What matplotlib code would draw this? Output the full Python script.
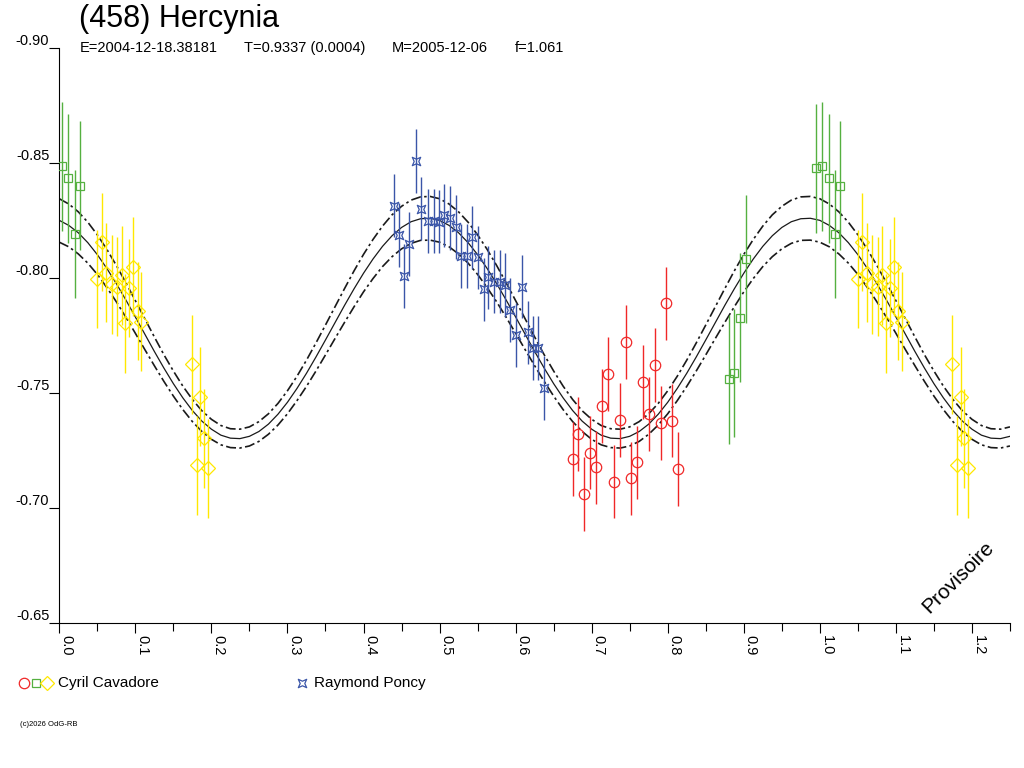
import matplotlib
matplotlib.use("Agg")
import matplotlib.pyplot as plt
import numpy as np
from matplotlib.path import Path
from matplotlib.lines import Line2D

plt.rcParams['font.family'] = ['Liberation Sans', 'DejaVu Sans']

# ---- fitted curve, every 0.0125 in phase (0 .. 0.9875) ----
fit_phase = np.arange(80) * 0.0125
fit_mid = [
    -0.8252, -0.8230, -0.8198, -0.8155, -0.8103, -0.8043, -0.7977, -0.7906, -0.7832, -0.7757,
    -0.7682, -0.7610, -0.7542, -0.7480, -0.7425, -0.7379, -0.7344, -0.7318, -0.7305, -0.7303,
    -0.7313, -0.7334, -0.7366, -0.7409, -0.7461, -0.7521, -0.7587, -0.7658, -0.7732, -0.7807,
    -0.7882, -0.7954, -0.8022, -0.8084, -0.8139, -0.8185, -0.8221, -0.8246, -0.8259, -0.8261,
    -0.8252, -0.8230, -0.8198, -0.8155, -0.8103, -0.8043, -0.7977, -0.7906, -0.7832, -0.7757,
    -0.7682, -0.7610, -0.7542, -0.7480, -0.7425, -0.7379, -0.7344, -0.7318, -0.7305, -0.7303,
    -0.7313, -0.7334, -0.7366, -0.7409, -0.7461, -0.7521, -0.7587, -0.7658, -0.7732, -0.7807,
    -0.7882, -0.7954, -0.8022, -0.8084, -0.8139, -0.8185, -0.8221, -0.8246, -0.8259, -0.8261,
]
fit_up = [
    -0.8346, -0.8323, -0.8289, -0.8244, -0.8189, -0.8126, -0.8056, -0.7981, -0.7903, -0.7824,
    -0.7745, -0.7668, -0.7597, -0.7531, -0.7473, -0.7424, -0.7387, -0.7360, -0.7346, -0.7344,
    -0.7354, -0.7377, -0.7411, -0.7456, -0.7511, -0.7574, -0.7644, -0.7719, -0.7797, -0.7876,
    -0.7955, -0.8032, -0.8104, -0.8169, -0.8227, -0.8276, -0.8313, -0.8340, -0.8354, -0.8356,
    -0.8346, -0.8323, -0.8289, -0.8244, -0.8189, -0.8126, -0.8056, -0.7981, -0.7903, -0.7824,
    -0.7745, -0.7668, -0.7597, -0.7531, -0.7473, -0.7424, -0.7387, -0.7360, -0.7346, -0.7344,
    -0.7354, -0.7377, -0.7411, -0.7456, -0.7511, -0.7574, -0.7644, -0.7719, -0.7797, -0.7876,
    -0.7955, -0.8032, -0.8104, -0.8169, -0.8227, -0.8276, -0.8313, -0.8340, -0.8354, -0.8356,
]
fit_lo = [
    -0.8157, -0.8137, -0.8106, -0.8066, -0.8017, -0.7960, -0.7898, -0.7831, -0.7761, -0.7690,
    -0.7620, -0.7552, -0.7488, -0.7429, -0.7377, -0.7334, -0.7300, -0.7276, -0.7264, -0.7262,
    -0.7271, -0.7291, -0.7322, -0.7362, -0.7411, -0.7468, -0.7530, -0.7597, -0.7667, -0.7738,
    -0.7808, -0.7876, -0.7941, -0.7999, -0.8051, -0.8094, -0.8128, -0.8152, -0.8165, -0.8166,
    -0.8157, -0.8137, -0.8106, -0.8066, -0.8017, -0.7960, -0.7898, -0.7831, -0.7761, -0.7690,
    -0.7620, -0.7552, -0.7488, -0.7429, -0.7377, -0.7334, -0.7300, -0.7276, -0.7264, -0.7262,
    -0.7271, -0.7291, -0.7322, -0.7362, -0.7411, -0.7468, -0.7530, -0.7597, -0.7667, -0.7738,
    -0.7808, -0.7876, -0.7941, -0.7999, -0.8051, -0.8094, -0.8128, -0.8152, -0.8165, -0.8166,
]

# ---- observations (phase, reduced magnitude) ----
# Cyril Cavadore, session 1 (red circles)
red_ph = [0.6755, 0.6825, 0.690, 0.6983, 0.7062, 0.7133, 0.7216, 0.729, 0.7366, 0.7448,
          0.7518, 0.7597, 0.768, 0.775, 0.7829, 0.7914, 0.7983, 0.8062, 0.8141]
red_mag = [-0.7214, -0.7324, -0.7062, -0.7242, -0.7178, -0.7446, -0.7585, -0.7116, -0.7383, -0.7722,
           -0.7130, -0.7200, -0.7548, -0.7409, -0.7624, -0.7372, -0.7891, -0.7381, -0.7170]
red_err = 0.016

# Cyril Cavadore, session 2 (green squares)
green_ph = [0.003, 0.012, 0.020, 0.027, 0.880, 0.887, 0.895, 0.903, 0.995]
green_mag = [-0.8487, -0.8435, -0.8193, -0.8402, -0.7561, -0.7588, -0.7829, -0.8084, -0.8478]
green_err = 0.028

# Cyril Cavadore, session 3 (yellow diamonds)
yellow_ph = [0.050, 0.056, 0.062, 0.069, 0.076, 0.082, 0.087, 0.092, 0.097, 0.103,
             0.108, 0.174, 0.181, 0.185, 0.190, 0.195]
yellow_mag = [-0.7997, -0.8158, -0.8025, -0.7975, -0.7963, -0.8013, -0.7804, -0.7958, -0.8050, -0.7858,
              -0.7811, -0.7626, -0.7188, -0.7485, -0.7304, -0.7174]
yellow_err = 0.0215

# Raymond Poncy (blue stars)
blue_ph = [0.4395, 0.4461, 0.4532, 0.4601, 0.4684, 0.4759, 0.4842, 0.4921, 0.4992, 0.5062,
           0.5132, 0.5216, 0.5276, 0.5355, 0.5421, 0.550, 0.5579, 0.5641, 0.5716, 0.5789,
           0.586, 0.593, 0.6005, 0.6084, 0.6158, 0.6229, 0.6295, 0.6369]
blue_mag = [-0.8316, -0.8188, -0.8010, -0.8150, -0.8511, -0.8303, -0.8249, -0.8249, -0.8246, -0.8274,
            -0.8262, -0.8224, -0.8097, -0.8097, -0.8178, -0.8091, -0.7952, -0.8004, -0.7985, -0.7985,
            -0.7971, -0.7862, -0.7753, -0.7964, -0.7765, -0.7698, -0.7698, -0.7523]
blue_err = 0.0138

x_major = [0.0, 0.1, 0.2, 0.3, 0.4, 0.5, 0.6, 0.7, 0.8, 0.9, 1.0, 1.1, 1.2]
x_labels = ["0.0", "0.1", "0.2", "0.3", "0.4", "0.5", "0.6", "0.7", "0.8", "0.9", "1.0", "1.1", "1.2"]
y_ticks = [-0.90, -0.85, -0.80, -0.75, -0.70, -0.65]
y_labels = ["-0.90", "-0.85", "-0.80", "-0.75", "-0.70", "-0.65"]

RED = '#f02828'
GREEN = '#55b040'
YELLOW = '#ffe800'
BLUE = '#3a55a8'

# marker like a square with pinched sides
star_path = Path([(-1, -1), (0, -0.55), (1, -1), (0.55, 0), (1, 1), (0, 0.55), (-1, 1), (-0.55, 0), (-1, -1)],
                 [Path.MOVETO] + [Path.LINETO] * 7 + [Path.CLOSEPOLY])


def wrap(ph, *vals, upto=0.25):
    # phases below 0.25 are shown again after 1.0
    ph = np.asarray(ph)
    sel = ph <= upto + 1e-9
    out = [np.concatenate([ph, ph[sel] + 1])]
    for v in vals:
        v = np.asarray(v)
        out.append(np.concatenate([v, v[sel]]))
    return out


fig = plt.figure(figsize=(10.24, 7.68), dpi=100)
ax = fig.add_axes([0.0579, 0.1884, 0.9284, 0.7487])

# fit + envelope
fx, fm, fu, fl = wrap(fit_phase, fit_mid, fit_up, fit_lo)
ax.plot(fx, fm, color='#1a1a1a', lw=0.9, zorder=2)
ax.plot(fx, fu, color='#1a1a1a', lw=1.2, ls=(0, (6, 2, 1.5, 2)), zorder=2)
ax.plot(fx, fl, color='#1a1a1a', lw=1.2, ls=(0, (6, 2, 1.5, 2)), zorder=2)

series = [
    (red_ph, red_mag, red_err, RED, 'o', 7.5),
    (green_ph, green_mag, green_err, GREEN, 's', 6.3),
    (yellow_ph, yellow_mag, yellow_err, YELLOW, 'D', 6.8),
    (blue_ph, blue_mag, blue_err, BLUE, star_path, 6),
]
for ph, mag, err, col, mk, ms in series:
    x, y = wrap(ph, mag)
    ax.errorbar(x, y, yerr=err, fmt='none', ecolor=col, elinewidth=1.0, capsize=0, zorder=3)
    ax.plot(x, y, ls='none', marker=mk, mfc='none', mec=col, ms=ms, mew=0.9, zorder=4)

ax.set_xlim(0, 1.25)
ax.set_ylim(-0.65, -0.90)

ax.set_xticks(x_major)
ax.set_xticks([0.05, 0.15, 0.25, 0.35, 0.45, 0.55, 0.65, 0.75, 0.85, 0.95, 1.05, 1.15, 1.25], minor=True)
ax.set_xticklabels(x_labels, rotation=-90, ha='left', va='top', fontsize=10.5)
ax.set_yticks(y_ticks)
ax.set_yticklabels(y_labels, va='bottom', fontsize=10.5)

ax.tick_params(axis='x', which='major', length=7.2, width=0.8, pad=1.5, direction='out')
ax.tick_params(axis='x', which='minor', length=6, width=0.8, direction='out')
ax.tick_params(axis='y', length=7.2, width=0.8, pad=0, direction='out')

for s in ['top', 'right']:
    ax.spines[s].set_visible(False)
for s in ['left', 'bottom']:
    ax.spines[s].set_linewidth(0.8)

# header
fig.text(79 / 1024, 1 - 27 / 768, "(458) Hercynia", fontsize=22, va='baseline')
fig.text(79.6 / 1024, 1 - 52 / 768, "E=2004-12-18.38181", fontsize=10.5, va='baseline')
fig.text(244 / 1024, 1 - 52 / 768, "T=0.9337 (0.0004)", fontsize=10.5, va='baseline')
fig.text(391.5 / 1024, 1 - 52 / 768, "M=2005-12-06", fontsize=10.5, va='baseline')
fig.text(514.6 / 1024, 1 - 52 / 768, "f=1.061", fontsize=10.5, va='baseline')

# watermark
fig.text(958 / 1024, 1 - 577 / 768, "Provisoire", fontsize=15, rotation=45,
         ha='center', va='center')

# legend
ly = 1 - 683 / 768
for lx, col, mk, ms in [(24, RED, 'o', 7.5), (36, GREEN, 's', 6.3), (47, YELLOW, 'D', 6.8), (302, BLUE, star_path, 6)]:
    fig.add_artist(Line2D([lx / 1024], [ly], transform=fig.transFigure, ls='none', marker=mk,
                          mfc='none', mec=col, ms=ms, mew=0.9))
fig.text(58.5 / 1024, ly, "Cyril Cavadore", fontsize=11, va='center')
fig.text(314 / 1024, ly, "Raymond Poncy", fontsize=11, va='center')

fig.text(20 / 1024, 1 - 725 / 768, "(c)2026 OdG-RB", fontsize=5.5, va='center')

fig.savefig("out.png", dpi=100)
